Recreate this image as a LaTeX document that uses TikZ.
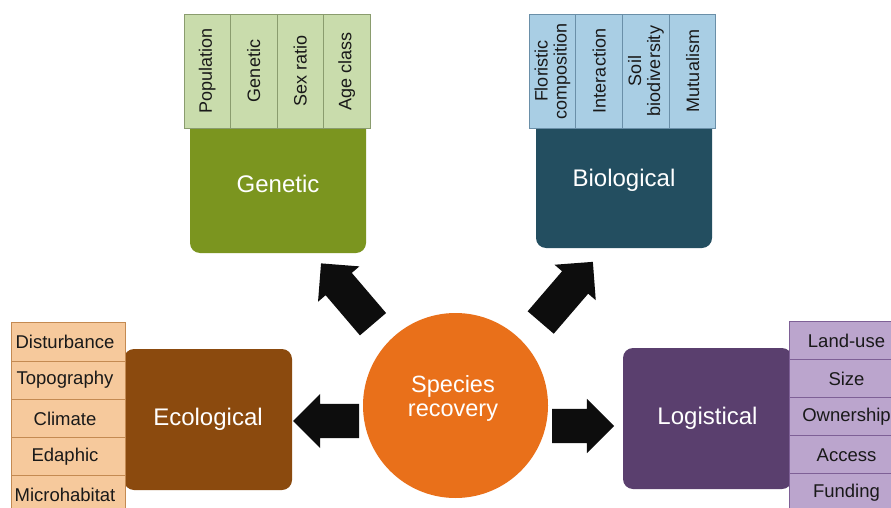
\documentclass[tikz,border=0pt]{standalone}
\usepackage{fontspec}
\setmainfont{Liberation Sans}
\usetikzlibrary{shapes.arrows,backgrounds}
\definecolor{genD}{HTML}{7B951F}
\definecolor{genL}{HTML}{C9DCAC}
\definecolor{genB}{HTML}{8A9C6E}
\definecolor{bioD}{HTML}{234E60}
\definecolor{bioL}{HTML}{A9CEE4}
\definecolor{bioB}{HTML}{6A8FA8}
\definecolor{ecoD}{HTML}{8B4A0E}
\definecolor{ecoL}{HTML}{F6C99C}
\definecolor{ecoB}{HTML}{C48A52}
\definecolor{logD}{HTML}{5A3F6E}
\definecolor{logL}{HTML}{BBA5CD}
\definecolor{logB}{HTML}{7E6096}
\definecolor{circO}{HTML}{E9701A}
\definecolor{arrK}{HTML}{0D0D0D}
\begin{document}
\begin{tikzpicture}[x=1pt,y=-1pt,
  bigbox/.style={rounded corners=10pt, inner sep=0pt, outer sep=0pt, text=white,
    font=\fontsize{24}{28}\selectfont},
  bigtext/.style={text=white, inner sep=0pt, font=\fontsize{23.5}{24}\selectfont, align=center},
  vbar/.style={rotate=90, line width=0.8pt, minimum width=114pt, minimum height=46.5pt,
    inner sep=1pt, font=\fontsize{18}{19}\selectfont, align=center, text=black!90},
  hbar/.style={line width=0.8pt, minimum width=114pt, minimum height=38.3pt,
    inner sep=1pt, font=\fontsize{18.5}{20}\selectfont, text=black!90},
  blockarr/.style={single arrow, fill=arrK, draw=none, inner xsep=0pt, inner ysep=17pt,
    outer sep=0pt, minimum width=54pt, single arrow head extend=10pt,
    single arrow tip angle=90, anchor=tail}
]
\useasboundingbox (0,0) rectangle (891,508);
\clip (0,0) rectangle (891,508);
\fill[white] (0,0) rectangle (891,508);

% main boxes
\node[bigbox, fill=genD, minimum width=176pt, minimum height=138pt] (gen) at (278,184) {Genetic};
\node[bigbox, fill=bioD, minimum width=176pt, minimum height=136pt] (bio) at (624,180) {Biological};
\node[bigbox, fill=ecoD, minimum width=168pt, minimum height=141pt] (eco) at (208,419.5) {Ecological};
\node[bigbox, fill=logD, minimum width=169pt, minimum height=141pt] (log) at (707.5,418.5) {Logistical};
\begin{scope}[on background layer]
  \fill[ecoD] (eco.north west) rectangle (eco.south);
  \fill[logD] (log.north) rectangle (log.south east);
\end{scope}

% genetic bars
\begin{scope}[every node/.append style={vbar, draw=genB, fill=genL}]
  \node (g1) at (207.25,71) {Population};
  \node (g2) at (253.75,71) {Genetic};
  \node (g3) at (300.25,71) {Sex ratio};
  \node (g4) at (346.75,71) {Age class};
\end{scope}

% biological bars
\begin{scope}[every node/.append style={vbar, draw=bioB, fill=bioL}]
  \node (b1) at (552.4,71) {Floristic\\composition};
  \node (b2) at (599.1,71) {Interaction};
  \node (b3) at (645.9,71) {Soil\\biodiversity};
  \node (b4) at (692.6,71) {Mutualism};
\end{scope}

% ecological bars
\begin{scope}[every node/.append style={hbar, draw=ecoB, fill=ecoL}]
  \node (e1) at (68,341.8) {\hspace*{-6pt}Disturbance};
  \node (e2) at (68,380.1) {\hspace*{-6pt}Topography};
  \node (e3) at (68,418.4) {\hspace*{-6pt}Climate};
  \node (e4) at (68,456.7) {\hspace*{-6pt}Edaphic};
  \node (e5) at (68,495.0) {\hspace*{-6pt}Microhabitat};
\end{scope}

% logistical bars
\begin{scope}[every node/.append style={hbar, draw=logB, fill=logL}]
  \node (l1) at (846.5,341) {Land-use};
  \node (l2) at (846.5,379) {Size};
  \node (l3) at (846.5,417) {Ownership};
  \node (l4) at (846.5,455) {Access};
  \node (l5) at (846.5,493) {Funding};
\end{scope}

% centre
\node[circle, fill=circO, minimum size=185pt, inner sep=0pt] (sr) at (455.5,405.5) {};
\node[bigtext] (srt) at (453,398) {Species\\recovery};

% block arrows
\node[blockarr, rotate=130.5, minimum height=80pt] (a1) at (373,324.2) {};
\node[blockarr, rotate=49.3, minimum height=80pt] (a2) at (540.7,322.5) {};
\node[blockarr, rotate=180, minimum height=66pt] (a3) at (359,421) {};
\node[blockarr, rotate=0, minimum height=62pt] (a4) at (552,426) {};
\end{tikzpicture}
\end{document}
